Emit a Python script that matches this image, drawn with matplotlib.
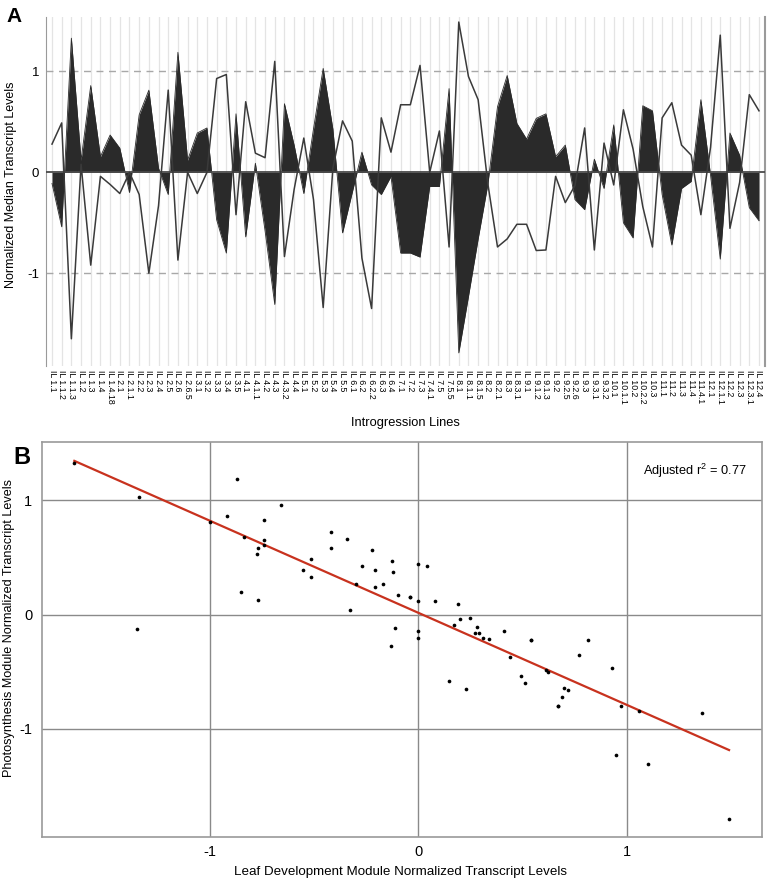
import numpy as np
import matplotlib
matplotlib.use("Agg")
import matplotlib.pyplot as plt

plt.rcParams['font.family'] = ['Liberation Sans', 'DejaVu Sans']

# ---------------- data ----------------
il_lines = ["IL 1.1", "IL 1.1.2", "IL 1.1.3", "IL 1.2", "IL 1.3", "IL 1.4", "IL 1.4.18",
            "IL 2.1", "IL 2.1.1", "IL 2.2", "IL 2.3", "IL 2.4", "IL 2.5", "IL 2.6", "IL 2.6.5",
            "IL 3.1", "IL 3.2", "IL 3.3", "IL 3.4", "IL 3.5",
            "IL 4.1", "IL 4.1.1", "IL 4.2", "IL 4.3", "IL 4.3.2", "IL 4.4",
            "IL 5.1", "IL 5.2", "IL 5.3", "IL 5.4", "IL 5.5",
            "IL 6.1", "IL 6.2", "IL 6.2.2", "IL 6.3", "IL 6.4",
            "IL 7.1", "IL 7.2", "IL 7.3", "IL 7.4.1", "IL 7.5", "IL 7.5.5",
            "IL 8.1", "IL 8.1.1", "IL 8.1.5", "IL 8.2", "IL 8.2.1", "IL 8.3", "IL 8.3.1",
            "IL 9.1", "IL 9.1.2", "IL 9.1.3", "IL 9.2", "IL 9.2.5", "IL 9.2.6", "IL 9.3", "IL 9.3.1", "IL 9.3.2",
            "IL 10.1", "IL 10.1.1", "IL 10.2", "IL 10.2.2", "IL 10.3",
            "IL 11.1", "IL 11.2", "IL 11.3", "IL 11.4", "IL 11.4.1",
            "IL 12.1", "IL 12.1.1", "IL 12.2", "IL 12.3", "IL 12.3.1", "IL 12.4"]

# Leaf development module (open line in A, x in B)
leaf_dev = [0.28, 0.49, -1.65, 0.08, -0.92, -0.04, -0.12, -0.21, 0.0, -0.22,
            -1.00, -0.33, 0.815, -0.87, 0.0, -0.21, 0.0, 0.93, 0.97, -0.42,
            0.70, 0.19, 0.145, 1.10, -0.835, -0.17, 0.34, -0.27, -1.34, 0.04,
            0.51, 0.31, -0.85, -1.35, 0.54, 0.20, 0.67, 0.67, 1.06, 0.0,
            0.41, -0.74, 1.49, 0.95, 0.72, -0.11, -0.74, -0.66, -0.515, -0.515,
            -0.775, -0.77, -0.04, -0.30, -0.13, 0.44, -0.77, 0.29, -0.125, 0.62,
            0.23, -0.34, -0.74, 0.54, 0.69, 0.27, 0.17, -0.42, 0.25, 1.36,
            -0.555, -0.10, 0.77, 0.61]

# Photosynthesis module (filled area in A, y in B)
photo = [-0.11, -0.54, 1.33, 0.12, 0.86, 0.155, 0.37, 0.24, -0.20, 0.57,
         0.815, 0.04, -0.22, 1.19, 0.12, 0.39, 0.44, -0.47, -0.80, 0.58,
         -0.64, 0.09, -0.58, -1.31, 0.68, 0.27, -0.21, 0.43, 1.03, 0.43,
         -0.60, -0.20, 0.20, -0.125, -0.22, -0.04, -0.80, -0.80, -0.84, -0.14,
         -0.14, 0.83, -1.79, -1.23, -0.66, -0.12, 0.65, 0.96, 0.485, 0.33,
         0.535, 0.58, 0.155, 0.27, -0.27, -0.37, 0.13, -0.16, 0.47, -0.50,
         -0.65, 0.66, 0.61, -0.22, -0.72, -0.16, -0.09, 0.72, -0.03, -0.86,
         0.39, 0.17, -0.35, -0.48]

r2_text = r"Adjusted r$^{\mathregular{2}}$ = 0.77"

# ---------------- figure ----------------
W, H = 768, 882
fig = plt.figure(figsize=(W / 100, H / 100), dpi=100)

def box(l, t, r, b):
    return [l / W, 1 - b / H, (r - l) / W, (b - t) / H]

# ----- Panel A -----
axA = fig.add_axes(box(46, 17, 765, 366))
x = np.arange(len(il_lines))
for xi in x:
    axA.axvline(xi, color='#e4e4e4', lw=0.9, zorder=0)
for yv in (-1, 1):
    axA.axhline(yv, color='#a8a8a8', lw=1.0, ls=(0, (5, 4)), zorder=1)
axA.fill_between(x, photo, 0, color='#2a2a2a', lw=0, zorder=2)
axA.plot(x, photo, color='#2a2a2a', lw=0.6, zorder=3)
axA.axhline(0, color='#4a4a4a', lw=1.3, zorder=3)
axA.plot(x, leaf_dev, color='#3a3a3a', lw=1.1, zorder=4)
axA.set_xlim(-0.62, 73.62)
axA.set_ylim(-1.92, 1.54)
axA.set_xticks(x)
axA.set_xticklabels(il_lines, rotation=270, fontsize=6.3)
axA.set_yticks([-1, 0, 1])
axA.set_yticklabels(['-1', '0', '1'], fontsize=9.5)
axA.tick_params(axis='both', length=0)
axA.tick_params(axis='x', pad=3)
axA.tick_params(axis='y', pad=5)
for s in ('top', 'bottom'):
    axA.spines[s].set_visible(False)
axA.spines['left'].set_color('#9a9a9a')
axA.spines['right'].set_color('#9a9a9a')
axA.spines['right'].set_linewidth(1.5)

fig.text(405 / W, 1 - 423 / H, "Introgression Lines", ha='center', va='center', fontsize=9.3)
fig.text(11 / W, 1 - 185 / H, "Normalized Median Transcript Levels", rotation=90,
         ha='center', va='center', fontsize=9)
fig.text(6 / W, 1 - 16 / H, "A", fontsize=15, fontweight='bold', ha='left', va='center')

# ----- Panel B -----
axB = fig.add_axes(box(42, 442, 762, 837))
for v in (-1, 0, 1):
    axB.axvline(v, color='#8a8a8a', lw=1.0, zorder=0)
    axB.axhline(v, color='#8a8a8a', lw=1.0, zorder=0)
lx = np.array(leaf_dev)
py = np.array(photo)
axB.scatter(lx, py, s=7, color='black', zorder=3, linewidths=0)
slope, icpt = np.polyfit(lx, py, 1)
xs = np.array([lx.min(), lx.max()])
axB.plot(xs, slope * xs + icpt, color='#c8321e', lw=1.6, zorder=2)
axB.set_xlim(-1.805, 1.648)
axB.set_ylim(-1.945, 1.511)
axB.set_xticks([-1, 0, 1])
axB.set_xticklabels(['-1', '0', '1'], fontsize=10.5)
axB.set_yticks([-1, 0, 1])
axB.set_yticklabels(['-1', '0', '1'], fontsize=10.5)
axB.tick_params(axis='both', length=0)
axB.tick_params(axis='x', pad=6)
axB.tick_params(axis='y', pad=7)
for s in axB.spines.values():
    s.set_color('#9a9a9a')
    s.set_linewidth(1.2)
axB.text(0.907, 0.927, r2_text, transform=axB.transAxes, ha='center', va='center', fontsize=9.2)

fig.text(400 / W, 1 - 872 / H, "Leaf Development Module Normalized Transcript Levels",
         ha='center', va='center', fontsize=9.6)
fig.text(9 / W, 1 - 628 / H, "Photosynthesis Module Normalized Transcript Levels", rotation=90,
         ha='center', va='center', fontsize=9.1)
fig.text(13 / W, 1 - 458 / H, "B", fontsize=17, fontweight='bold', ha='left', va='center')

fig.savefig("out.png", dpi=100)
